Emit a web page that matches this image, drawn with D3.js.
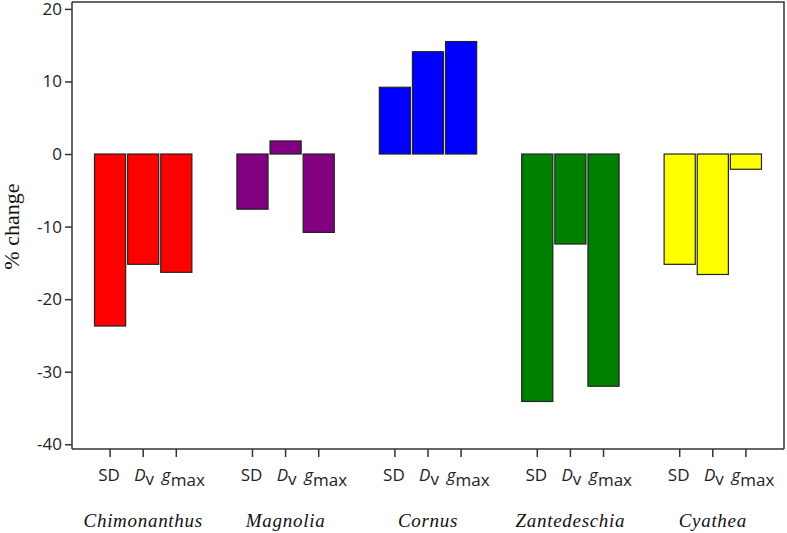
<!DOCTYPE html>
<html>
<head>
<meta charset="utf-8">
<script src="https://cdn.jsdelivr.net/npm/d3@7"></script>
<style>
  body { margin: 0; background: #fff; }
  svg { display: block; }
</style>
</head>
<body>
<svg id="chart" width="787" height="533"></svg>
<script>
// species groups and the three traits
var species = ["Chimonanthus", "Magnolia", "Cornus", "Zantedeschia", "Cyathea"]
var traits = ["SD", "Dv", "gmax"]
var colors = ["#ff0000", "#800080", "#0000ff", "#008000", "#ffff00"]

// % change per species, in trait order SD, Dv, gmax
var sdValues   = [-23.7, -7.6,  9.2, -34.1, -15.2]
var dvValues   = [-15.2,  1.8, 14.1, -12.4, -16.6]
var gmaxValues = [-16.3, -10.8, 15.5, -32.0, -2.1]

var yTicks = [20, 10, 0, -10, -20, -30, -40]

var svg = d3.select("#chart")
var mLeft = 72, mRight = 784, mTop = 2, mBottom = 449

var x0 = d3.scaleBand().domain(species).range([mLeft, mRight]).padding(0)
var x1 = d3.scaleBand().domain(traits).range([0, x0.bandwidth()])
  .paddingInner(0.06).paddingOuter(0.68)
var y = d3.scaleLinear().domain([-40.65, 20.95]).range([mBottom, mTop])

var rows = []
species.forEach(function(s, i) {
  rows.push({ sp: s, tr: "SD", v: sdValues[i], c: colors[i] })
  rows.push({ sp: s, tr: "Dv", v: dvValues[i], c: colors[i] })
  rows.push({ sp: s, tr: "gmax", v: gmaxValues[i], c: colors[i] })
})

// bars
svg.append("g").selectAll("rect").data(rows).enter().append("rect")
  .attr("x", function(d) { return x0(d.sp) + x1(d.tr) })
  .attr("width", x1.bandwidth())
  .attr("y", function(d) { return y(Math.max(0, d.v)) })
  .attr("height", function(d) { return Math.abs(y(d.v) - y(0)) })
  .attr("fill", function(d) { return d.c })
  .attr("stroke", "#222")
  .attr("stroke-width", 1.2)

// frame (top and right)
svg.append("path")
  .attr("d", "M" + mLeft + "," + mTop + "H" + mRight + "V" + mBottom)
  .attr("fill", "none").attr("stroke", "#333").attr("stroke-width", 1.5)

// y axis, plain hyphen for negatives like the original
var yAxis = svg.append("g").attr("transform", "translate(" + mLeft + ",0)")
  .call(d3.axisLeft(y).tickValues(yTicks).tickSize(7).tickPadding(3)
    .tickFormat(function(d) { return String(d) }))
yAxis.select(".domain").attr("stroke", "#333").attr("stroke-width", 1.5)
  .attr("d", "M0," + mTop + "V" + mBottom)
yAxis.selectAll(".tick line").attr("stroke", "#333").attr("stroke-width", 1.5)
yAxis.selectAll(".tick text").attr("fill", "#222")
  .style("font-family", "'Open Sans', 'Noto Sans', sans-serif").style("font-size", "17px")

// x axis line
svg.append("line").attr("x1", mLeft).attr("x2", mRight).attr("y1", mBottom).attr("y2", mBottom)
  .attr("stroke", "#333").attr("stroke-width", 1.5)

// trait ticks and labels
var tickG = svg.append("g").selectAll("g").data(rows).enter().append("g")
  .attr("transform", function(d) {
    return "translate(" + (x0(d.sp) + x1(d.tr) + x1.bandwidth() / 2) + "," + mBottom + ")"
  })
tickG.append("line").attr("y1", 0).attr("y2", 8).attr("stroke", "#333").attr("stroke-width", 1.5)
var lab = tickG.append("text").attr("y", 32).attr("text-anchor", "middle")
  .attr("fill", "#222")
  .style("font-family", "'Open Sans', 'Noto Sans', sans-serif").style("font-size", "17px")
lab.each(function(d) {
  var t = d3.select(this)
  if (d.tr == "SD") {
    t.attr("x", -1).text("SD")
  } else if (d.tr == "Dv") {
    t.attr("x", 1)
    t.append("tspan").style("font-style", "italic").text("D")
    t.append("tspan").attr("dy", 4).text("v")
  } else {
    t.attr("x", 7)
    t.append("tspan").style("font-style", "italic").text("g")
    t.append("tspan").attr("dy", 5).text("max")
  }
})

// species names
svg.append("g").selectAll("text").data(species).enter().append("text")
  .attr("x", function(d) { return x0(d) + x0.bandwidth() / 2 })
  .attr("y", 527)
  .attr("text-anchor", "middle")
  .attr("fill", "#111")
  .style("font-family", "'Liberation Serif', 'Times New Roman', serif")
  .style("font-style", "italic").style("font-size", "19px")
  .style("letter-spacing", "0.7px")
  .text(function(d) { return d })

// y label
svg.append("text")
  .attr("transform", "translate(19," + y(-10) + ") rotate(-90)")
  .attr("text-anchor", "middle")
  .attr("fill", "#111")
  .style("font-family", "'Liberation Serif', 'Times New Roman', serif")
  .style("font-size", "22px")
  .text("% change")
</script>
</body>
</html>
